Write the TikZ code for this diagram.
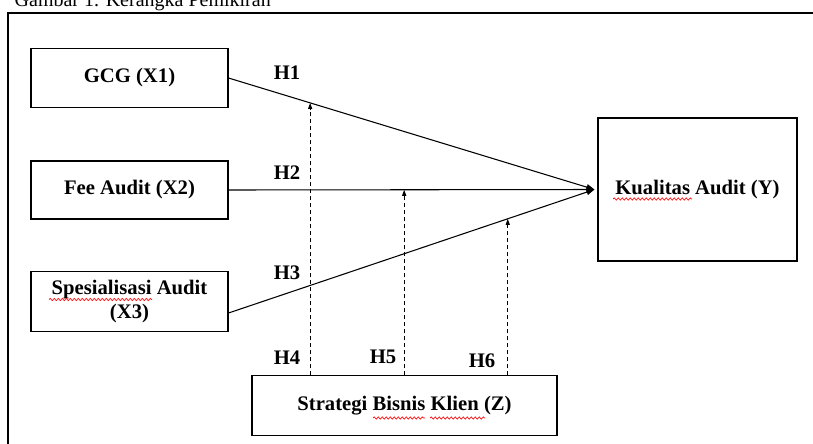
\documentclass[tikz,border=0pt]{standalone}
\usepackage{fontspec}
\setmainfont{Liberation Serif}
\usetikzlibrary{calc, positioning, arrows.meta, decorations.pathmorphing}

\begin{document}
\begin{tikzpicture}[x=0.75pt, y=-0.75pt,
					font=\fontsize{15.5}{18.5}\selectfont\bfseries,
					var/.style={draw, line width=0.8pt, minimum width=147.75pt,
						minimum height=44.5pt, align=center, inner sep=2pt},
					effect/.style={line width=0.8pt, -{Triangle[length=6pt, width=4.5pt]}},
					moder/.style={line width=0.8pt, dash pattern=on 3pt off 2.25pt,
						-{Triangle[length=4.5pt, width=3pt]}},
					typo/.style={red, line width=0.5pt, decorate,
						decoration={snake, amplitude=0.8pt, segment length=3pt}}]

\useasboundingbox (0,0) rectangle (813,443);

% judul dan bingkai
\node[anchor=base west, font=\fontsize{15}{18}\selectfont\normalfont] (title) at (10,6)
	{Gambar 1. Kerangka Pemikiran};
\draw[line width=1.5pt] (8,470) |- (840,12.5);

% variabel
\node[var] (gcg) at (129.5,78) {GCG (X1)};
\node[var, minimum height=43.5pt] (fee) at (129.5,190) {Fee Audit (X2)};
\node[var] (spes) at (129.5,301.5) {Spesialisasi Audit\\(X3)};
\node[var, minimum width=149.25pt, minimum height=107.25pt] (kual) at (697.5,189.5)
	{Kualitas Audit (Y)};
\node[var, minimum width=228.75pt] (strat) at (404.5,405.5)
	{Strategi Bisnis Klien (Z)};

% garis ejaan
\draw[typo] (49,299.5) -- (152,299.5);
\draw[typo] (613,199) -- (692,199);
\draw[typo] (373,418) -- (425,418);
\draw[typo] (430,418) -- (485,418);

% pengaruh langsung
\coordinate (hub) at ($(kual.west)+(-3,0)$);
\coordinate (x3) at ($(spes.east)+(0,11.5)$);
\draw[effect] (gcg.east) -- (hub);
\draw[effect] (fee.east) -- (hub);
\draw[effect] (x3) -- (hub);

% moderasi
\coordinate (m1) at ($(gcg.east)!0.223!(hub)$);
\coordinate (m2) at ($(fee.east)!0.48!(hub)$);
\coordinate (m3) at ($(x3)!0.763!(hub)$);
\foreach \m in {m1,m2,m3}
	\draw[moder] (strat.north -| \m) -- (\m);

% hipotesis
\node (h1) at (287,73) {H1};
\node (h2) at (287,173) {H2};
\node (h3) at (287,273) {H3};
\node (h4) at (287,358) {H4};
\node (h5) at (383,357) {H5};
\node (h6) at (482,361) {H6};
\end{tikzpicture}
\end{document}
